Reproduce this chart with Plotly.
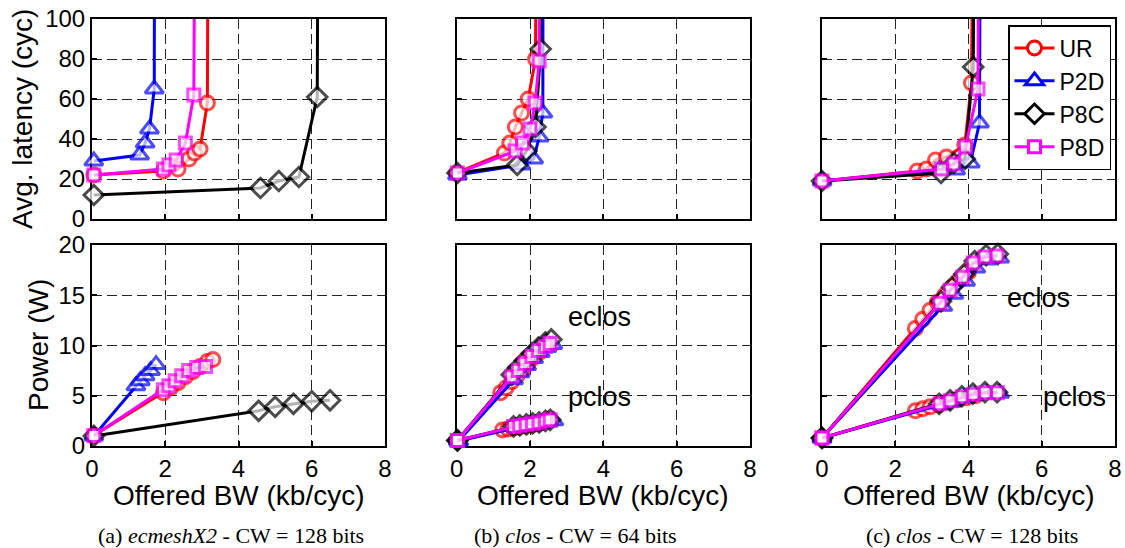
import plotly.graph_objects as go

# ---------------- data ----------------
series_names = ["UR", "P2D", "P8C", "P8D"]
x_ticks = [0, 2, 4, 6, 8]
lat_ticks = [0, 20, 40, 60, 80, 100]
pow_ticks = [0, 5, 10, 15, 20]

# (a) ecmeshX2 - latency  (last point of each series is the saturated, off-scale value)
lat_a_x = {
    "UR":  [0.05, 1.95, 2.35, 2.65, 2.8, 2.95, 3.15, 3.2],
    "P2D": [0.05, 1.3, 1.45, 1.57, 1.7, 1.72],
    "P8C": [0.05, 4.6, 5.1, 5.65, 6.15, 6.2],
    "P8D": [0.05, 1.95, 2.1, 2.3, 2.55, 2.78, 2.85],
}
lat_a_y = {
    "UR":  [22, 24, 25, 30, 33, 35, 58, 300],
    "P2D": [29, 32, 38, 45, 65, 300],
    "P8C": [12, 15.5, 19, 21, 61, 300],
    "P8D": [22, 25, 27, 29.5, 38, 62, 300],
}
# (b) clos CW=64 - latency
lat_b_x = {
    "UR":  [0.0, 1.3, 1.45, 1.6, 1.77, 1.95, 2.15, 2.2],
    "P2D": [0.02, 1.75, 2.1, 2.25, 2.35, 2.36],
    "P8C": [0.02, 1.65, 1.9, 2.15, 2.29, 2.3],
    "P8D": [0.02, 1.6, 1.8, 2.0, 2.14, 2.25, 2.28],
}
lat_b_y = {
    "UR":  [23, 33, 38, 46, 53, 60, 80, 300],
    "P2D": [22, 27, 30, 41, 53, 300],
    "P8C": [23, 27, 34, 46, 85, 300],
    "P8D": [23, 34, 38, 45, 58, 79, 300],
}
# (c) clos CW=128 - latency
lat_c_x = {
    "UR":  [0.0, 2.6, 2.85, 3.1, 3.4, 3.9, 4.08, 4.2],
    "P2D": [0.0, 3.2, 3.65, 4.05, 4.3, 4.35],
    "P8C": [0.0, 3.25, 3.6, 3.9, 4.13, 4.2],
    "P8D": [0.0, 3.26, 3.6, 3.92, 4.26, 4.31],
}
lat_c_y = {
    "UR":  [19, 24, 25, 29.5, 31, 37, 68, 300],
    "P2D": [19, 24.5, 24.5, 28, 48, 300],
    "P8C": [19, 23, 28, 30, 76, 300],
    "P8D": [19, 25, 27.5, 36, 65, 300],
}

# (a) ecmeshX2 - power
pow_a_x = {
    "UR":  [0.05, 1.95, 2.15, 2.35, 2.55, 2.75, 2.95, 3.15, 3.3],
    "P2D": [0.05, 1.2, 1.32, 1.45, 1.6, 1.75],
    "P8C": [0.05, 4.55, 5.0, 5.5, 6.0, 6.5],
    "P8D": [0.05, 1.95, 2.1, 2.27, 2.45, 2.64, 2.86, 3.1],
}
pow_a_y = {
    "UR":  [1.05, 5.3, 5.8, 6.3, 6.9, 7.4, 7.9, 8.4, 8.6],
    "P2D": [1.0, 6.0, 6.5, 7.0, 7.5, 8.1],
    "P8C": [1.0, 3.5, 3.9, 4.2, 4.45, 4.55],
    "P8D": [1.05, 5.6, 6.0, 6.5, 7.0, 7.5, 7.8, 7.9],
}
# (b) clos CW=64 - power, eclos and pclos
pow_b_eclos_x = {
    "UR":  [0.0, 1.2, 1.35, 1.5, 1.65, 1.8, 1.95, 2.1, 2.25],
    "P2D": [0.05, 1.55, 1.73, 1.91, 2.1, 2.28, 2.46, 2.62],
    "P8C": [0.02, 1.5, 1.68, 1.86, 2.05, 2.23, 2.42, 2.58],
    "P8D": [0.02, 1.5, 1.68, 1.86, 2.05, 2.23, 2.42, 2.55],
}
pow_b_eclos_y = {
    "UR":  [0.55, 5.3, 5.8, 6.4, 7.0, 7.6, 8.2, 8.8, 9.3],
    "P2D": [0.5, 6.6, 7.3, 8.0, 8.7, 9.3, 9.8, 10.1],
    "P8C": [0.55, 7.1, 7.8, 8.5, 9.2, 9.8, 10.3, 10.6],
    "P8D": [0.55, 6.9, 7.5, 8.2, 8.9, 9.5, 9.9, 10.2],
}
pow_b_pclos_x = {
    "UR":  [0.0, 1.25, 1.4, 1.55, 1.7, 1.85, 2.0, 2.15, 2.3],
    "P2D": [0.05, 1.6, 1.78, 1.96, 2.14, 2.32, 2.5, 2.65],
    "P8C": [0.02, 1.55, 1.72, 1.9, 2.07, 2.25, 2.42, 2.55],
    "P8D": [0.02, 1.55, 1.72, 1.9, 2.07, 2.25, 2.42, 2.55],
}
pow_b_pclos_y = {
    "UR":  [0.55, 1.6, 1.7, 1.8, 1.9, 2.0, 2.1, 2.2, 2.3],
    "P2D": [0.5, 1.85, 1.95, 2.05, 2.15, 2.25, 2.4, 2.5],
    "P8C": [0.55, 1.95, 2.05, 2.15, 2.25, 2.35, 2.5, 2.6],
    "P8D": [0.55, 1.95, 2.05, 2.15, 2.25, 2.35, 2.5, 2.6],
}
# (c) clos CW=128 - power, eclos and pclos
pow_c_eclos_x = {
    "UR":  [0.0, 2.55, 2.75, 2.95, 3.15, 3.35, 3.55, 3.75, 4.0],
    "P2D": [0.0, 3.3, 3.6, 3.92, 4.2, 4.5, 4.85],
    "P8C": [0.0, 3.25, 3.55, 3.88, 4.17, 4.48, 4.8],
    "P8D": [0.0, 3.22, 3.5, 3.84, 4.13, 4.45, 4.78],
}
pow_c_eclos_y = {
    "UR":  [0.8, 11.7, 12.6, 13.5, 14.3, 15.0, 15.8, 16.5, 17.3],
    "P2D": [0.8, 13.9, 15.1, 16.4, 17.7, 18.5, 18.7],
    "P8C": [0.8, 14.4, 15.8, 17.1, 18.4, 19.0, 19.1],
    "P8D": [0.8, 14.2, 15.5, 16.8, 18.2, 18.8, 18.9],
}
pow_c_pclos_x = {
    "UR":  [0.0, 2.55, 2.75, 2.95, 3.2, 3.45, 3.7, 3.95, 4.2],
    "P2D": [0.0, 3.25, 3.55, 3.88, 4.18, 4.5, 4.85],
    "P8C": [0.0, 3.2, 3.5, 3.82, 4.12, 4.45, 4.78],
    "P8D": [0.0, 3.22, 3.5, 3.83, 4.13, 4.46, 4.79],
}
pow_c_pclos_y = {
    "UR":  [0.8, 3.5, 3.7, 3.9, 4.1, 4.4, 4.6, 4.8, 5.0],
    "P2D": [0.8, 4.1, 4.4, 4.8, 5.05, 5.2, 5.25],
    "P8C": [0.8, 4.2, 4.55, 4.95, 5.2, 5.35, 5.35],
    "P8D": [0.8, 4.2, 4.5, 4.9, 5.15, 5.3, 5.3],
}

captions = ["(a) <i>ecmeshX2</i> - CW = 128 bits",
            "(b) <i>clos</i> - CW = 64 bits",
            "(c) <i>clos</i> - CW = 128 bits"]

# ---------------- styling ----------------
W, H = 1125, 548
colors = {"UR": "#ff0000", "P2D": "#0000ff", "P8C": "#000000", "P8D": "#ff00ff"}
symbols = {"UR": "circle", "P2D": "triangle-up", "P8C": "diamond", "P8D": "square"}
msize = {"UR": 14, "P2D": 16, "P8C": 15, "P8D": 12}
SANS = "Liberation Sans, Arial, Helvetica, sans-serif"
SERIF = "Liberation Serif, Times New Roman, serif"


def px(x):
    return x / W


def py(y):
    return 1 - y / H


cols = [(92, 385), (456.7, 750), (822, 1115)]
rows = [(19, 219), (245, 446)]
yranges = [[0, 100], [0, 20]]
yticks = [lat_ticks, pow_ticks]

fig = go.Figure()
layout = {}
for r in range(2):
    for c in range(3):
        k = r * 3 + c + 1
        xa = "xaxis" if k == 1 else f"xaxis{k}"
        ya = "yaxis" if k == 1 else f"yaxis{k}"
        common = dict(showline=True, mirror=True, linecolor="black", linewidth=2,
                      ticks="inside", ticklen=5, tickcolor="black", tickwidth=1.5,
                      showgrid=True, gridcolor="#222222", gridwidth=1, griddash="10px,5px",
                      zeroline=False, tickfont=dict(family=SANS, size=24, color="black"),
                      layer="below traces", automargin=False)
        layout[xa] = dict(common, domain=[px(cols[c][0]), px(cols[c][1])], range=[0, 8],
                          tickvals=x_ticks, showticklabels=(r == 1),
                          anchor="y" if k == 1 else f"y{k}")
        layout[ya] = dict(common, domain=[py(rows[r][1]), py(rows[r][0])], range=yranges[r],
                          tickvals=yticks[r], showticklabels=(c == 0),
                          anchor="x" if k == 1 else f"x{k}")


def add_curve(k, name, xs, ys, ymax):
    sz = [msize[name] if y <= ymax else 0 for y in ys]
    lw = [3 if y <= ymax else 0 for y in ys]
    fig.add_trace(go.Scatter(
        x=xs, y=ys, mode="lines+markers", name=name, legendgroup=name, showlegend=False,
        xaxis="x" if k == 1 else f"x{k}", yaxis="y" if k == 1 else f"y{k}",
        line=dict(color=colors[name], width=3),
        marker=dict(symbol=symbols[name], size=sz, color="white",
                    line=dict(color=colors[name], width=lw)),
        cliponaxis=False, hoverinfo="skip"))


lat_panels = [(lat_a_x, lat_a_y), (lat_b_x, lat_b_y), (lat_c_x, lat_c_y)]
for c, (dx, dy) in enumerate(lat_panels):
    for name in series_names:
        add_curve(c + 1, name, dx[name], dy[name], 100)

for name in series_names:
    add_curve(4, name, pow_a_x[name], pow_a_y[name], 20)
for name in series_names:
    add_curve(5, name, pow_b_eclos_x[name], pow_b_eclos_y[name], 20)
    add_curve(5, name, pow_b_pclos_x[name], pow_b_pclos_y[name], 20)
for name in series_names:
    add_curve(6, name, pow_c_eclos_x[name], pow_c_eclos_y[name], 20)
    add_curve(6, name, pow_c_pclos_x[name], pow_c_pclos_y[name], 20)

# legend entries
for name in series_names:
    fig.add_trace(go.Scatter(
        x=[None], y=[None], mode="lines+markers", name=name, legendgroup=name,
        xaxis="x3", yaxis="y3", line=dict(color=colors[name], width=3),
        marker=dict(symbol=symbols[name], size=msize[name], color="white",
                    line=dict(color=colors[name], width=3))))

ann = []


def pap(text, x, y, size, family=SANS, angle=0):
    ann.append(dict(text=text, x=px(x), y=py(y), xref="paper", yref="paper",
                    xanchor="center", yanchor="middle", textangle=angle, showarrow=False,
                    font=dict(family=family, size=size, color="black")))


pap("Avg. latency (cyc)", 23, 119, 28, angle=-90)
pap("Power (W)", 38, 345, 28, angle=-90)
cap_x = [231, 575, 972]
for c in range(3):
    pap("Offered BW (kb/cyc)", (cols[c][0] + cols[c][1]) / 2, 495, 28)
    pap(captions[c], cap_x[c], 535, 22, family=SERIF)
for (k, tx, ty, t) in [(5, 3.9, 12.8, "eclos"), (5, 3.9, 4.9, "pclos"),
                       (6, 5.9, 14.7, "eclos"), (6, 6.9, 4.9, "pclos")]:
    ann.append(dict(text=t, x=tx, y=ty, xref=f"x{k}", yref=f"y{k}", showarrow=False,
                    xanchor="center", yanchor="middle",
                    font=dict(family=SANS, size=27, color="black")))

fig.update_layout(
    width=W, height=H, margin=dict(l=0, r=0, t=0, b=0, pad=0, autoexpand=False),
    paper_bgcolor="white", plot_bgcolor="white",
    showlegend=True,
    legend=dict(x=px(1008), y=py(25), xanchor="left", yanchor="top",
                bgcolor="white", bordercolor="black", borderwidth=1.5,
                font=dict(family=SANS, size=23, color="black"), tracegroupgap=0,
                itemwidth=40),
    annotations=ann,
    **layout)

fig.write_html("out.html", config={"displayModeBar": False},
               post_script="document.body.style.margin='0';document.body.style.padding='0';"
                           "document.body.style.overflow='hidden';")
